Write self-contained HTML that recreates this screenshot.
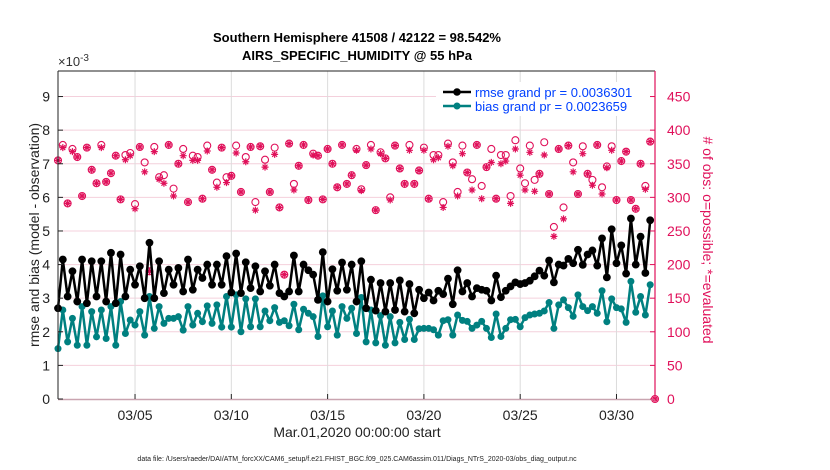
<!DOCTYPE html>
<html><head><meta charset="utf-8"><style>
html,body{margin:0;padding:0;background:#fff;}
svg{display:block;font-family:"Liberation Sans",sans-serif;}
</style></head><body>
<svg id="chart" width="830" height="470" viewBox="0 0 830 470">
<text x="357" y="42" text-anchor="middle" font-size="13" font-weight="bold">Southern Hemisphere 41508 / 42122 = 98.542%</text>
<text x="357" y="60" text-anchor="middle" font-size="13" font-weight="bold">AIRS_SPECIFIC_HUMIDITY @ 55 hPa</text>
<text x="58" y="66" font-size="13" fill="#333">×10<tspan dy="-5" font-size="10">-3</tspan></text>
<g id="grid"></g>
<g id="series"></g>
<g id="axes"></g>
<text transform="translate(39,235) rotate(-90)" text-anchor="middle" font-size="14" fill="#222">rmse and bias (model - observation)</text>
<text transform="translate(703,240) rotate(90)" text-anchor="middle" font-size="14" fill="#e0105a"># of obs: o=possible; *=evaluated</text>
<text x="357" y="437" text-anchor="middle" font-size="14" fill="#222">Mar.01,2020 00:00:00 start</text>
<text x="357" y="461" text-anchor="middle" font-size="7" fill="#222">data file: /Users/raeder/DAI/ATM_forcXX/CAM6_setup/f.e21.FHIST_BGC.f09_025.CAM6assim.011/Diags_NTrS_2020-03/obs_diag_output.nc</text>
<g>
<rect x="436" y="82" width="214" height="34" fill="#fff"/>
<g>
<line x1="443" y1="92" x2="471" y2="92" stroke="#000" stroke-width="2.5"/><circle cx="457" cy="92" r="3.8" fill="#000"/>
<text x="475" y="97" font-size="13" fill="#0040ff">rmse grand pr = 0.0036301</text></g>
<g>
<line x1="443" y1="106" x2="471" y2="106" stroke="#008080" stroke-width="2.5"/><circle cx="457" cy="106" r="3.5" fill="#008080"/>
<text x="475" y="111" font-size="13" fill="#0040ff">bias grand pr = 0.0023659</text></g>
</g>
</svg>
<script>
const rmse=[2.7,4.15,3.05,3.8,2.9,4.15,2.85,4.1,3.05,4.1,2.9,4.35,2.85,4.3,3.05,3.85,3.4,3.95,3.0,4.65,3.0,4.1,3.15,3.85,3.4,3.9,3.2,4.15,3.25,3.85,3.6,4.0,3.4,4.0,3.4,4.25,3.17,4.33,3.15,4.07,3.3,3.95,3.2,3.8,3.37,4.0,3.15,3.05,3.2,4.27,3.2,4.0,3.83,3.7,2.95,4.37,2.9,3.86,3.22,4.06,3.25,4.0,2.9,4.1,2.7,3.55,2.63,3.45,2.6,3.45,2.65,3.53,2.6,3.42,2.55,3.25,3.0,3.17,2.93,3.22,3.12,3.58,2.82,3.83,3.2,3.45,3.05,3.3,3.25,3.22,2.93,3.67,3.03,3.22,3.35,3.47,3.42,3.45,3.52,3.65,3.82,3.67,4.12,3.47,4.0,3.97,4.17,4.04,4.44,3.99,4.3,4.42,3.97,4.78,3.62,5.05,4.04,4.57,3.73,5.37,4.0,4.83,3.75,5.32];
const bias=[1.5,2.65,1.7,2.4,1.6,2.75,1.6,2.6,1.85,2.65,1.8,2.75,1.6,2.9,1.95,2.35,2.2,2.6,1.9,3.05,2.1,2.75,2.25,2.4,2.4,2.45,2.05,2.75,2.2,2.55,2.3,2.77,2.25,2.8,2.14,3.05,2.14,3.1,2.0,2.98,2.15,2.98,2.15,2.62,2.33,2.72,2.28,2.33,2.18,2.82,2.06,2.67,2.55,2.45,1.86,3.07,2.15,2.62,1.9,2.75,2.4,2.7,1.95,3.02,1.7,2.65,1.67,2.48,1.6,2.45,1.67,2.28,1.77,2.37,1.77,2.09,2.1,2.1,2.06,1.9,2.33,2.36,1.9,2.5,2.34,2.31,2.1,2.2,2.31,2.1,1.83,2.53,1.86,2.1,2.36,2.37,2.15,2.42,2.5,2.53,2.55,2.62,2.87,2.1,2.8,2.95,2.72,2.46,3.1,2.75,2.63,2.75,2.55,3.22,2.3,2.98,2.72,2.68,2.28,3.5,2.58,3.05,2.5,3.4];
const possible=[355,378,291,372,360,302,374,341,321,378,323,336,362,297,363,366,290,375,352,190,375,330,333,378,313,350,372,293,362,360,298,377,341,322,374,330,332,377,308,360,375,293,376,356,308,374,285,185,380,320,347,378,296,365,362,297,372,350,315,378,320,333,372,312,348,378,281,367,358,300,377,343,320,378,320,340,374,298,363,363,293,380,352,308,377,337,327,378,317,345,372,298,363,363,302,385,343,321,377,326,335,382,305,256,372,285,377,352,305,376,335,326,378,315,346,376,296,354,368,296,283,350,317,383,0];
const evaluated=[355,374,291,368,360,302,374,341,321,374,323,336,362,297,356,362,283,375,338,190,368,327,321,378,302,350,362,293,355,355,298,369,341,315,374,322,332,366,308,353,375,281,376,345,308,364,285,185,380,311,347,378,296,363,362,297,372,350,315,378,320,333,370,310,348,372,281,365,358,296,377,343,320,370,320,340,370,298,356,359,285,376,347,302,365,337,311,378,298,345,352,298,350,354,291,372,333,311,367,309,335,363,305,242,372,268,377,338,305,365,335,318,378,305,344,370,296,354,368,296,283,350,312,383,0];
const yTicks=[0,1,2,3,4,5,6,7,8,9];
const y2Ticks=[0,50,100,150,200,250,300,350,400,450];
const xTickLabels=["03/05","03/10","03/15","03/20","03/25","03/30"];
const xTickDays=[4,9,14,19,24,29];

const X0=58,X1=655,Y0=399,YT=71;
const DAYS=31, YMAX=9.76, Y2MAX=488;
const xDay=d=>X0+d*(X1-X0)/DAYS;
const xIdx=i=>xDay(i*0.25);
const yL=v=>Y0-v*(Y0-YT)/YMAX;
const yR=v=>Y0-v*(Y0-YT)/Y2MAX;
const NS="http://www.w3.org/2000/svg";
function mk(tag,attrs,parent){const e=document.createElementNS(NS,tag);for(const k in attrs)e.setAttribute(k,attrs[k]);parent.appendChild(e);return e;}
const grid=document.getElementById('grid'),series=document.getElementById('series'),axes=document.getElementById('axes');

yTicks.forEach(v=>{if(v===0)return;const l=mk('line',{x1:X0,x2:X1,y1:yL(v),y2:yL(v),stroke:'#f4d0dc','stroke-width':1},grid);

});
xTickDays.forEach(d=>{const l=mk('line',{x1:xDay(d),x2:xDay(d),y1:YT,y2:Y0,stroke:'#dcdcdc','stroke-width':1},grid);

});

const red='#e0105a';
possible.forEach((v,i)=>{const c=mk('circle',{cx:xIdx(i),cy:yR(v),r:3.5,fill:'none',stroke:red,'stroke-width':1.1},series);

});
evaluated.forEach((v,i)=>{const x=xIdx(i),y=yR(v),r=3.5;
const g=mk('path',{d:`M${x-r},${y}H${x+r}M${x},${y-r}V${y+r}M${x-r*0.7},${y-r*0.7}L${x+r*0.7},${y+r*0.7}M${x-r*0.7},${y+r*0.7}L${x+r*0.7},${y-r*0.7}`,stroke:red,'stroke-width':1.2,fill:'none'},series);

});

function drawLine(arr,color,r,name){
const pts=arr.map((v,i)=>xIdx(i).toFixed(1)+','+yL(v).toFixed(1)).join(' ');
const pl=mk('polyline',{points:pts,fill:'none',stroke:color,'stroke-width':2.5,'stroke-linejoin':'round'},series);


arr.forEach((v,i)=>{const c=mk('circle',{cx:xIdx(i),cy:yL(v),r:r,fill:color},series);

});}
drawLine(bias,'#008080',3.5,'bias');
drawLine(rmse,'#000',3.9,'rmse');

let a=mk('line',{x1:X0,x2:X0,y1:YT,y2:Y0,stroke:'#222','stroke-width':1},axes);

a=mk('line',{x1:X0,x2:X1,y1:YT,y2:YT,stroke:'#222','stroke-width':1},axes);

a=mk('line',{x1:X0,x2:X1,y1:Y0+0.5,y2:Y0+0.5,stroke:'#c9a4b0','stroke-width':1.5},axes);

a=mk('line',{x1:X1,x2:X1,y1:YT,y2:Y0,stroke:red,'stroke-width':1.2},axes);

yTicks.forEach(v=>{const t=mk('text',{x:X0-8,y:yL(v)+5,'text-anchor':'end','font-size':14,fill:'#222'},axes);t.textContent=v;


mk('line',{x1:X0,x2:X0+5,y1:yL(v),y2:yL(v),stroke:'#222'},axes);});
y2Ticks.forEach(v=>{const t=mk('text',{x:X1+12,y:yR(v)+5,'font-size':14,fill:red},axes);t.textContent=v;


mk('line',{x1:X1-5,x2:X1,y1:yR(v),y2:yR(v),stroke:red},axes);});
xTickDays.forEach((d,k)=>{const t=mk('text',{x:xDay(d),y:Y0+21,'text-anchor':'middle','font-size':14,fill:'#222'},axes);t.textContent=xTickLabels[k];


mk('line',{x1:xDay(d),x2:xDay(d),y1:Y0-5,y2:Y0,stroke:'#222'},axes);});
</script>
</body></html>
